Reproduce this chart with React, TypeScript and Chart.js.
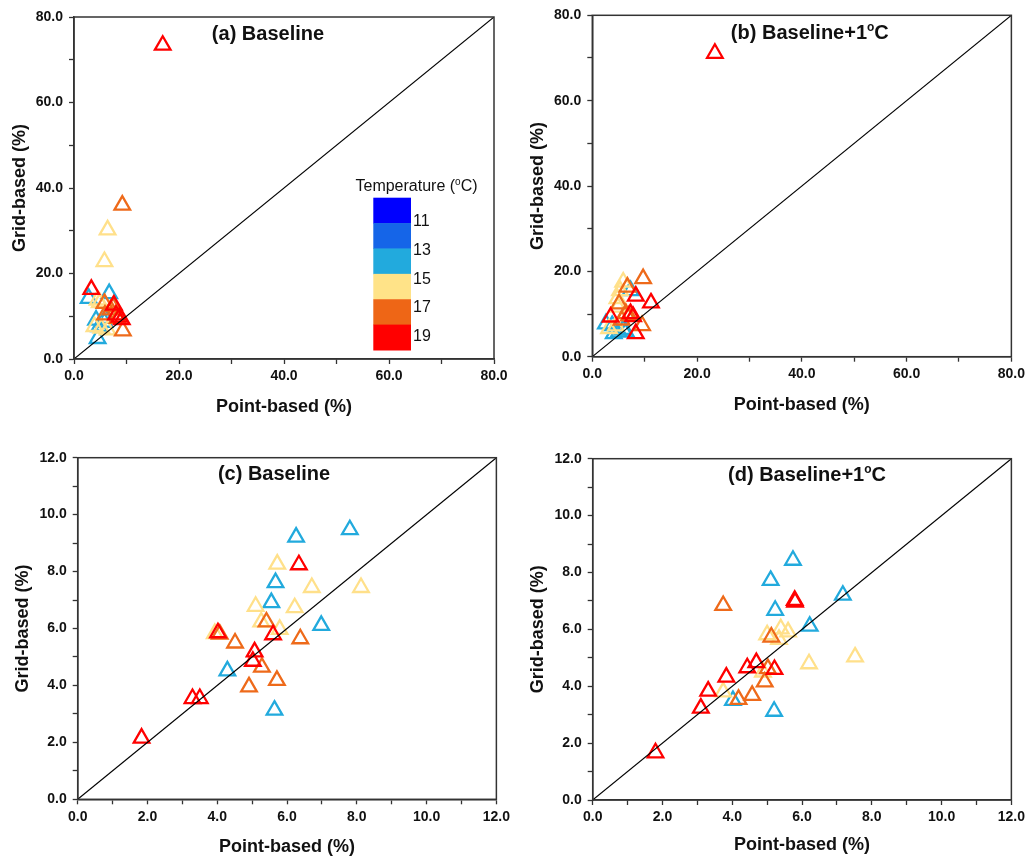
import React, { useEffect, useRef } from "react";
import { Chart, registerables } from "chart.js";
Chart.register(...registerables);

type Pt = [number, number];

// ---------- data ----------
const colorbarColors = ["#0000FF", "#1565E8", "#22AADD", "#FFE388", "#EE6616", "#FF0000"];
const colorbarLabels = ["11", "13", "15", "17", "19"];

const blueColor = "#22AADD";
const yellowColor = "#FFE08A";
const orangeColor = "#EE6A1A";
const redColor = "#FF0000";

const ticksWide = [0, 20, 40, 60, 80];
const ticksNarrow = [0, 2, 4, 6, 8, 10, 12];

// (a) Baseline, wide range
const aBlue: Pt[] = [[2.8, 14.2], [6.7, 15.3], [6.0, 9.5], [4.2, 9.1], [4.8, 7.6], [4.5, 4.8], [5.8, 8.6]];
const aYellow: Pt[] = [[6.4, 30.2], [5.8, 22.8], [4.5, 13.8], [4.9, 13.2], [3.9, 7.6], [6.4, 6.8], [5.2, 7.2]];
const aOrange: Pt[] = [[9.2, 36.0], [5.8, 13.0], [7.0, 11.5], [8.3, 9.5], [9.3, 6.6], [5.9, 10.3], [7.4, 12.2]];
const aRed: Pt[] = [[16.9, 73.4], [3.3, 16.3], [7.6, 12.6], [8.0, 10.3], [9.1, 9.2], [8.7, 9.8]];

// (b) Baseline+1°C, wide range
const bBlue: Pt[] = [[7.3, 15.5], [2.6, 7.7], [3.8, 7.3], [5.1, 5.8], [6.4, 5.8], [4.1, 5.4], [5.9, 6.4]];
const bYellow: Pt[] = [[5.9, 17.5], [5.3, 15.5], [4.8, 13.6], [4.9, 11.6], [3.2, 6.6], [4.5, 7.2]];
const bOrange: Pt[] = [[9.7, 18.3], [6.7, 16.3], [5.1, 12.4], [6.4, 10.1], [9.5, 7.3], [5.6, 8.6], [7.0, 9.6]];
const bRed: Pt[] = [[23.4, 71.1], [8.3, 14.2], [11.2, 12.6], [7.3, 10.1], [7.8, 9.4], [3.5, 9.3], [8.3, 5.4]];

// (c) Baseline, narrow range
const cBlue: Pt[] = [[7.8, 9.47], [6.26, 9.21], [5.67, 7.61], [5.55, 6.91], [6.98, 6.11], [4.29, 4.51], [5.64, 3.13]];
const cYellow: Pt[] = [[5.72, 8.26], [6.71, 7.44], [8.12, 7.44], [5.1, 6.78], [6.22, 6.73], [5.26, 6.23], [5.79, 5.97], [3.93, 5.82]];
const cOrange: Pt[] = [[5.41, 6.23], [4.07, 5.8], [4.51, 5.49], [6.38, 5.64], [5.28, 4.64], [4.91, 3.95], [5.71, 4.18]];
const cRed: Pt[] = [[6.34, 8.24], [5.6, 5.78], [5.07, 5.18], [5.02, 4.85], [3.29, 3.54], [3.5, 3.54], [1.83, 2.15], [4.02, 5.85]];

// (d) Baseline+1°C, narrow range
const dBlue: Pt[] = [[5.74, 8.43], [5.1, 7.72], [7.17, 7.2], [5.23, 6.67], [6.22, 6.11], [5.2, 3.12], [4.02, 3.5]];
const dYellow: Pt[] = [[7.52, 5.03], [6.2, 4.79], [5.39, 6.02], [5.6, 5.91], [5.0, 5.81], [5.34, 5.65], [4.88, 4.5], [3.74, 3.8]];
const dOrange: Pt[] = [[3.74, 6.84], [5.12, 5.73], [5.02, 4.62], [4.93, 4.15], [4.57, 3.68], [4.18, 3.54]];
const dRed: Pt[] = [[5.79, 7.02], [5.8, 6.96], [4.69, 4.83], [4.43, 4.65], [5.21, 4.59], [3.83, 4.32], [3.31, 3.83], [3.1, 3.23], [1.8, 1.66]];

// ---------- layout ----------
type Part = { text: string; sup?: boolean };
interface PanelCfg {
  left: number; top: number; width: number; height: number;
  area: { l: number; t: number; r: number; b: number };
  max: number; step: number; majors: number[];
  title: Part[]; titleDx: number; titleDy: number;
  yTitlePad: number; xTitlePad: number;
  series: { color: string; pts: Pt[] }[];
  colorbar?: boolean;
}

const FONT = "'Liberation Sans', Arial, Helvetica, sans-serif";
const TEXT = "#111";
const AXIS = "#333";

const panels: PanelCfg[] = [
  {
    left: 0, top: 0, width: 514, height: 425,
    area: { l: 74, t: 17, r: 494, b: 359 }, max: 80, step: 10, majors: ticksWide,
    title: [{ text: "(a) Baseline" }], titleDx: -16, titleDy: 16,
    yTitlePad: 9, xTitlePad: 7,
    series: [{ color: redColor, pts: aRed }, { color: orangeColor, pts: aOrange }, { color: yellowColor, pts: aYellow }, { color: blueColor, pts: aBlue }],
    colorbar: true,
  },
  {
    left: 514, top: 0, width: 515, height: 425,
    area: { l: 78.3, t: 15.3, r: 498.3, b: 356.7 }, max: 80, step: 10, majors: ticksWide,
    title: [{ text: "(b) Baseline+1" }, { text: "o", sup: true }, { text: "C" }], titleDx: 8, titleDy: 16.5,
    yTitlePad: 13, xTitlePad: 9,
    series: [{ color: redColor, pts: bRed }, { color: orangeColor, pts: bOrange }, { color: yellowColor, pts: bYellow }, { color: blueColor, pts: bBlue }],
  },
  {
    left: 0, top: 430, width: 514, height: 429,
    area: { l: 77.7, t: 27.7, r: 497.3, b: 369.3 }, max: 12, step: 1, majors: ticksNarrow,
    title: [{ text: "(c) Baseline" }], titleDx: -13, titleDy: 15,
    yTitlePad: 12, xTitlePad: 1.5,
    series: [{ color: redColor, pts: cRed }, { color: orangeColor, pts: cOrange }, { color: yellowColor, pts: cYellow }, { color: blueColor, pts: cBlue }],
  },
  {
    left: 514, top: 430, width: 515, height: 429,
    area: { l: 78.7, t: 28.7, r: 498.3, b: 370 }, max: 12, step: 1, majors: ticksNarrow,
    title: [{ text: "(d) Baseline+1" }, { text: "o", sup: true }, { text: "C" }], titleDx: 5, titleDy: 14.6,
    yTitlePad: 13, xTitlePad: 3,
    series: [{ color: redColor, pts: dRed }, { color: orangeColor, pts: dOrange }, { color: yellowColor, pts: dYellow }, { color: blueColor, pts: dBlue }],
  },
];

function drawRich(ctx: CanvasRenderingContext2D, parts: Part[], cx: number, cy: number, size: number, weight: string) {
  const main = `${weight} ${size}px ${FONT}`;
  const sup = `${weight} ${Math.round(size * 0.6)}px ${FONT}`;
  let total = 0;
  const widths = parts.map((p) => {
    ctx.font = p.sup ? sup : main;
    const w = ctx.measureText(p.text).width;
    total += w;
    return w;
  });
  let x = cx - total / 2;
  const baseline = cy + size * 0.36;
  ctx.textAlign = "left";
  ctx.textBaseline = "alphabetic";
  ctx.fillStyle = TEXT;
  parts.forEach((p, i) => {
    ctx.font = p.sup ? sup : main;
    ctx.fillText(p.text, x, p.sup ? baseline - size * 0.4 : baseline);
    x += widths[i];
  });
}

function makePlugin(cfg: PanelCfg) {
  return {
    id: "panelDecor",
    afterDatasetsDraw(chart: any) {
      const { ctx, chartArea } = chart;
      const { left, top, right, bottom } = chartArea;
      ctx.save();
      ctx.strokeStyle = AXIS;
      ctx.lineWidth = 1.5;
      ctx.strokeRect(left, top, right - left, bottom - top);
      drawRich(ctx, cfg.title, (left + right) / 2 + cfg.titleDx, top + cfg.titleDy, 20, "bold");
      if (cfg.colorbar) {
        const bx = 373.3, bw = 37.7, by = 197.7, bh = 152.3;
        const h = bh / colorbarColors.length;
        colorbarColors.forEach((c, i) => {
          ctx.fillStyle = c;
          ctx.fillRect(bx, by + i * h, bw, h + 0.5);
        });
        ctx.fillStyle = TEXT;
        ctx.font = `16px ${FONT}`;
        ctx.textAlign = "left";
        ctx.textBaseline = "middle";
        colorbarLabels.forEach((lab, i) => {
          ctx.fillText(lab, bx + bw + 2, 221.7 + i * 28.75);
        });
        drawRich(ctx, [{ text: "Temperature (" }, { text: "o", sup: true }, { text: "C)" }], 416.5, 185.5, 16, "normal");
      }
      ctx.restore();
    },
  };
}

function Panel({ cfg }: { cfg: PanelCfg }) {
  const ref = useRef<HTMLCanvasElement | null>(null);
  useEffect(() => {
    if (!ref.current) return;
    const tickFont = { family: FONT, size: 14, weight: "bold" as const };
    const titleFont = { family: FONT, size: 18, weight: "bold" as const };
    const fmt = (v: any) => {
      const n = Number(v);
      return cfg.majors.some((m) => Math.abs(m - n) < 1e-6) ? n.toFixed(1) : "";
    };
    const gridOpts = {
      display: true, drawOnChartArea: false, drawTicks: true,
      tickLength: 5, tickColor: AXIS, tickWidth: 1.3,
    };
    const chart = new Chart(ref.current, {
      type: "scatter",
      data: {
        datasets: [
          {
            type: "line",
            data: [{ x: 0, y: 0 }, { x: cfg.max, y: cfg.max }],
            borderColor: "#000", borderWidth: 1.1, pointRadius: 0, fill: false,
          } as any,
          ...cfg.series.map((s) => ({
            data: s.pts.map(([x, y]) => ({ x, y })),
            pointStyle: "triangle",
            pointRadius: 9,
            pointBorderWidth: 2.3,
            borderColor: s.color,
            pointBorderColor: s.color,
            backgroundColor: "rgba(0,0,0,0)",
            pointBackgroundColor: "rgba(0,0,0,0)",
          })),
        ],
      },
      options: {
        responsive: false,
        animation: false,
        layout: { padding: { top: cfg.area.t, right: cfg.width - cfg.area.r, left: 0, bottom: 0 } },
        plugins: { legend: { display: false }, tooltip: { enabled: false } },
        scales: {
          x: {
            type: "linear", min: 0, max: cfg.max,
            ticks: { stepSize: cfg.step, autoSkip: false, maxRotation: 0, callback: fmt, font: tickFont, color: TEXT, padding: 4 },
            grid: gridOpts,
            border: { display: true, color: AXIS, width: 1.5 },
            title: { display: true, text: "Point-based (%)", font: titleFont, color: TEXT, padding: { top: 0, bottom: cfg.xTitlePad } },
            afterFit: (s: any) => { s.height = cfg.height - cfg.area.b; },
          },
          y: {
            type: "linear", min: 0, max: cfg.max,
            ticks: { stepSize: cfg.step, autoSkip: false, callback: fmt, font: tickFont, color: TEXT, padding: 6 },
            grid: gridOpts,
            border: { display: true, color: AXIS, width: 1.5 },
            title: { display: true, text: "Grid-based (%)", font: titleFont, color: TEXT, padding: { top: cfg.yTitlePad, bottom: 0 } },
            afterFit: (s: any) => { s.width = cfg.area.l; },
          },
        },
      } as any,
      plugins: [makePlugin(cfg)],
    });
    return () => chart.destroy();
  }, [cfg]);
  return (
    <canvas
      ref={ref}
      width={cfg.width}
      height={cfg.height}
      style={{ position: "absolute", left: cfg.left, top: cfg.top, width: cfg.width, height: cfg.height }}
    />
  );
}

export default function App() {
  return (
    <div style={{ position: "absolute", left: 0, top: 0, width: 1029, height: 859, background: "#fff" }}>
      {panels.map((p, i) => (
        <Panel key={i} cfg={p} />
      ))}
    </div>
  );
}
